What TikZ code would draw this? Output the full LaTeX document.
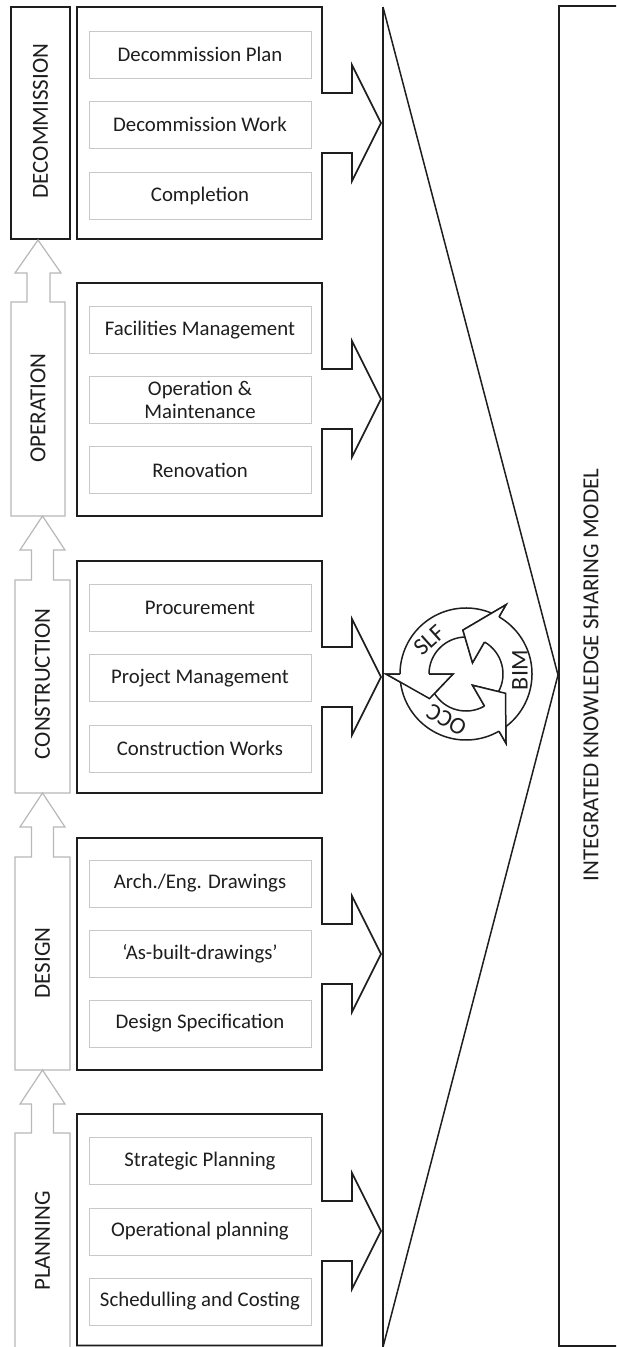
\documentclass[tikz,border=0pt]{standalone}
\usepackage{fontspec}
\setmainfont{Carlito}
\definecolor{ink}{HTML}{1E1E1E}
\definecolor{phasegray}{HTML}{B8B8B8}
\definecolor{itemgray}{HTML}{C8C8C8}
\newcommand{\cycarrow}[2]{%
 \path[cyc] (#1:66) arc[start angle=#1,end angle=#2,radius=66] -- (#2:80) -- ({#2+34}:44) -- (#2:13) -- (#2:37) arc[start angle=#2,end angle=#1,radius=37] -- cycle;}
\newcommand{\cychead}[1]{%
 \fill[white] (#1:80) -- ({#1+34}:44) -- (#1:13) -- cycle;
 \draw[draw=ink,line width=1.5pt,line join=miter] (#1:66) -- (#1:80) -- ({#1+34}:44) -- (#1:13) -- (#1:37);}
\begin{document}
\begin{tikzpicture}[x=1pt,y=-1pt,
  blk/.style={draw=ink,line width=1.7pt,line join=miter},
  mainline/.style={draw=ink,line width=1.5pt,line join=miter},
  upar/.style={draw=phasegray,line width=1.2pt,fill=white},
  item/.style={draw=itemgray,line width=1pt,minimum width=222pt,minimum height=47pt,inner sep=0pt,align=center,text=ink,font=\fontsize{20.8}{23}\selectfont},
  phase/.style={rotate=90,text=ink,font=\fontsize{23}{25}\selectfont,inner sep=0pt},
  cyc/.style={draw=ink,line width=1.5pt,fill=white,line join=miter},
  cyclbl/.style={text=ink,font=\fontsize{24}{26}\selectfont,inner sep=0pt}]
\clip (0,0) rectangle (616,1347);
\fill[white] (0,0) rectangle (616,1347);

% ---------- left phase column ----------
\draw[blk] (11,7) rectangle (70,239);
\node[phase] (decom) at (40.5,121) {DECOMMISSION};

\draw[upar] (11,516) -- (11,302) -- (27,302) -- (27,273) -- (15,273) -- (38,240) -- (61,273) -- (50,273) -- (50,302) -- (65,302) -- (65,516) -- cycle;
\node[phase] (oper) at (38,408) {OPERATION};

\draw[upar] (15,793) -- (15,580) -- (31.5,580) -- (31.5,550) -- (20,550) -- (42.5,516) -- (65,550) -- (53.5,550) -- (53.5,580) -- (70,580) -- (70,793) -- cycle;
\node[phase] (constr) at (42.5,684) {CONSTRUCTION};

\draw[upar] (15,1070) -- (15,857) -- (31.5,857) -- (31.5,827) -- (20,827) -- (42.5,793) -- (65,827) -- (53.5,827) -- (53.5,857) -- (70,857) -- (70,1070) -- cycle;
\node[phase] (design) at (42.5,963) {DESIGN};

\draw[upar] (15,1360) -- (15,1133) -- (31.5,1133) -- (31.5,1104) -- (20,1104) -- (42.5,1070) -- (65,1104) -- (53.5,1104) -- (53.5,1133) -- (70,1133) -- (70,1360) -- cycle;
\node[phase] (plan) at (42.5,1241) {PLANNING};

% ---------- stage boxes with arrows ----------
\draw[blk] (77,7) -- (322,7) -- (322,93) -- (352,93) -- (352,65) -- (381,123) -- (352,181) -- (352,153) -- (322,153) -- (322,239) -- (77,239) -- cycle;
\node[item] (d1) at (200,54.5) {Decommission Plan};
\node[item] (d2) at (200,124.5) {Decommission Work};
\node[item] (d3) at (200,195.5) {Completion};

\draw[blk] (77,283) -- (322,283) -- (322,369) -- (352,369) -- (352,341) -- (381,399) -- (352,457) -- (352,429) -- (322,429) -- (322,516) -- (77,516) -- cycle;
\node[item] (o1) at (200,330) {Facilities Management};
\node[item] (o2) at (200,400) {Operation \&\\Maintenance};
\node[item] (o3) at (200,470) {Renovation};

\draw[blk] (77,561) -- (322,561) -- (322,647) -- (352,647) -- (352,619) -- (381,677) -- (352,735) -- (352,707) -- (322,707) -- (322,793) -- (77,793) -- cycle;
\node[item] (c1) at (200,607.5) {Procurement};
\node[item] (c2) at (200,678) {Project Management};
\node[item] (c3) at (200,748.5) {Construction Works};

\draw[blk] (77,838) -- (322,838) -- (322,924) -- (352,924) -- (352,896) -- (381,954) -- (352,1012) -- (352,984) -- (322,984) -- (322,1070) -- (77,1070) -- cycle;
\node[item] (e1) at (200,883.5) {Arch./Eng. Drawings};
\node[item] (e2) at (200,953.5) {‘As-built-drawings’};
\node[item] (e3) at (200,1023.5) {Design Specification};

\draw[blk] (77,1114) -- (322,1114) -- (322,1201) -- (352,1201) -- (352,1173) -- (381,1231) -- (352,1289) -- (352,1261) -- (322,1261) -- (322,1345.5) -- (77,1345.5) -- cycle;
\node[item] (p1) at (200,1161) {Strategic Planning};
\node[item] (p2) at (200,1231.5) {Operational planning};
\node[item] (p3) at (200,1301.5) {Schedulling and Costing};

% ---------- funnel and model box ----------
\draw[mainline] (383,7) -- (383,1350);
\draw[mainline] (383,7) -- (558,675) -- (383,1347);
\draw[mainline] (559,6) rectangle (640,1346);
\node[rotate=90,text=ink,font=\fontsize{23}{25}\selectfont,inner sep=0pt] (ikm) at (591,675) {INTEGRATED KNOWLEDGE SHARING MODEL};

% ---------- cycle ----------
\begin{scope}[shift={(466,674)},yscale=-1]
  \cycarrow{64}{180}
  \cycarrow{184}{300}
  \cycarrow{304}{420}
  \cychead{180}
  \cychead{300}
  \cychead{420}
  \node[cyclbl,rotate=42] (slf) at (137:50) {SLF};
  \node[cyclbl,rotate=90] (bim) at (4:54) {BIM};
  \node[cyclbl,rotate=150] (occ) at (247:50) {OCC};
\end{scope}
\end{tikzpicture}
\end{document}
